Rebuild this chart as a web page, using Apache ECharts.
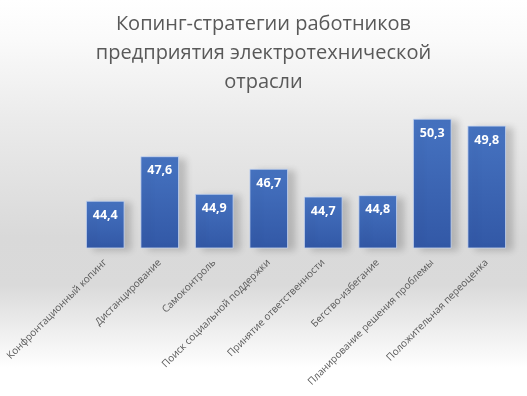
<!DOCTYPE html>
<html><head><meta charset="utf-8">
<script src="https://cdn.jsdelivr.net/npm/echarts@6/dist/echarts.min.js"></script>
<style>html,body{margin:0;padding:0;}#c{width:527px;height:396px;}</style>
</head><body><div id="c"></div>
<script>
const titleText = 'Копинг-стратегии работников\nпредприятия электротехнической\nотрасли';
const categories = ['Конфронтационный копинг','Дистанцирование','Самоконтроль','Поиск социальной поддержки','Принятие ответственности','Бегство-избегание','Планирование решения проблемы','Положительная переоценка'];
const values = [44.4, 47.6, 44.9, 46.7, 44.7, 44.8, 50.3, 49.8];

const chart = echarts.init(document.getElementById('c'));
chart.setOption({
  animation: false,
  backgroundColor: {type:'linear',x:0,y:0,x2:0,y2:1,colorStops:[
    {offset:0,color:'#ffffff'},{offset:0.1,color:'#fafafa'},{offset:0.3,color:'#ebebeb'},
    {offset:0.6,color:'#d9d9d9'},{offset:0.72,color:'#dadada'},{offset:0.93,color:'#ffffff'},{offset:1,color:'#ffffff'}]},
  title: {text: titleText, left:'center', top:5,
    textStyle:{fontFamily:'Open Sans', fontWeight:'normal', fontSize:20, color:'#595959', lineHeight:29}},
  grid: {left:78, right:13, top:95, bottom:148, containLabel:false},
  xAxis: {type:'category', data: categories,
    axisLine:{show:false}, axisTick:{show:false},
    axisLabel:{rotate:45, interval:0, fontFamily:'Open Sans', fontSize:10, color:'#595959', margin:13}},
  yAxis: {type:'value', min:41, max:52, show:false, splitLine:{show:false}},
  series: [{type:'bar', data: values, barCategoryGap:'29%',
    itemStyle:{color:{type:'linear',x:0,y:0,x2:0,y2:1,colorStops:[{offset:0,color:'#4673c1'},{offset:1,color:'#3258a6'}]},
      borderColor:'rgba(200,215,240,0.8)', borderWidth:1,
      shadowColor:'rgba(0,0,0,0.18)', shadowBlur:7, shadowOffsetX:7, shadowOffsetY:2},
    label:{show:true, position:'insideTop', distance:8, color:'#ffffff', fontFamily:'Open Sans', fontWeight:'bold', fontSize:12.5,
      formatter: p => String(p.value).replace('.', ',')}
  }]
});
</script></body></html>
